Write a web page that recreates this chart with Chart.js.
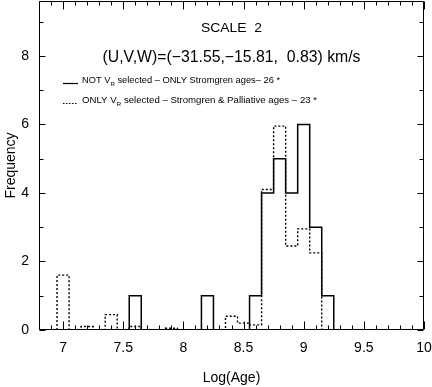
<!DOCTYPE html>
<html><head><meta charset="utf-8">
<script src="https://cdn.jsdelivr.net/npm/chart.js@4/dist/chart.umd.min.js"></script>
<style>html,body{margin:0;padding:0;background:#fff}#wrap{width:432px;height:387px;position:relative}</style>
</head><body><div id="wrap"><canvas id="c" width="432" height="387"></canvas></div>
<script>
// ---- data ----
const binCenters   = [7.0,7.1,7.2,7.3,7.4,7.5,7.6,7.7,7.8,7.9,8.0,8.1,8.2,8.3,8.4,8.5,8.6,8.7,8.8,8.9,9.0,9.1,9.2];
const notVrCounts  = [0,  0,  0,  0,  0,  0,  1,  0,  0,  0,  0,  0,  1,  0,  0,  0,  1,  4,  5,  4,  6,  3,  1];
const onlyVrCounts = [1.6,0,  0.1,0,  0.45,0, 0.1,0,  0,  0.05,0, 0,  0,  0,  0.4,0.2,0.15,4.1,5.95,2.45,2.95,2.25,0];
const binWidth = 0.1;
const xTickLabels = [7, 7.5, 8, 8.5, 9, 9.5, 10];
const yTickLabels = [0, 2, 4, 6, 8];
const titleLine1 = 'SCALE  2';
const titleLine2 = '(U,V,W)=(\u221231.55,\u221215.81,  0.83) km/s';
const legend1 = ['NOT V', 'R', ' selected \u2013 ONLY Stromgren ages\u2013 26 *'];
const legend2 = ['ONLY V', 'R', ' selected \u2013 Stromgren & Palliative ages \u2013 23 *'];
const xTitle = 'Log(Age)';
const yTitle = 'Frequency';

function stepPoints(counts){
  const pts = [{x: binCenters[0] - binWidth/2, y: 0}];
  counts.forEach((v,i) => pts.push({x: binCenters[i] - binWidth/2, y: v}));
  pts.push({x: binCenters[binCenters.length-1] + binWidth/2, y: 0});
  return pts;
}

const FONT = "'Liberation Sans', 'DejaVu Sans', sans-serif";

// draw text horizontally scaled to a target width
function fitText(ctx, text, cx, cy, size, width){
  ctx.font = size + "px " + FONT;
  const w = ctx.measureText(text).width;
  ctx.save();
  ctx.translate(cx, cy);
  ctx.scale(width / w, 1);
  ctx.textAlign = 'center'; ctx.textBaseline = 'middle';
  ctx.fillText(text, 0, 0);
  ctx.restore();
}

const framePlugin = {
  id: 'frame',
  afterDraw(chart){
    const {ctx, chartArea:{left,right,top,bottom}, scales:{x,y}} = chart;
    ctx.save();
    ctx.strokeStyle = '#000'; ctx.lineWidth = 1;
    const L = Math.round(left)+0.5, R = Math.round(right)-0.5, T = Math.round(top)+0.5, B = Math.round(bottom)-0.5;
    ctx.beginPath();
    ctx.moveTo(L,T); ctx.lineTo(R,T); ctx.lineTo(R,B); ctx.lineTo(L,B); ctx.closePath();
    for (let k = Math.ceil(x.min*10); k <= Math.floor(x.max*10); k++){
      const px = Math.round(x.getPixelForValue(k/10)) + 0.5;
      const len = (k % 5 === 0) ? 8 : 4;
      ctx.moveTo(px, B); ctx.lineTo(px, B - len);
      ctx.moveTo(px, T); ctx.lineTo(px, T + len);
    }
    for (let k = 0; k <= Math.floor(y.max); k++){
      const py = Math.round(y.getPixelForValue(k)) + 0.5;
      const len = (k % 2 === 0) ? 6 : 4;
      ctx.moveTo(L, py); ctx.lineTo(L + len, py);
      ctx.moveTo(R, py); ctx.lineTo(R - len, py);
    }
    ctx.stroke();

    const cx = (left + right) / 2;
    ctx.fillStyle = '#000';
    fitText(ctx, titleLine1, cx, top + 27, 13, 61);
    fitText(ctx, titleLine2, cx, top + 57, 16, 258);

    const lx = left + 24, tx = left + 43;
    const drawEntry = (parts, yy, dash, width) => {
      ctx.save();
      ctx.lineWidth = 1.2;
      ctx.setLineDash(dash);
      ctx.beginPath(); ctx.moveTo(lx, yy + 2.5); ctx.lineTo(lx + 15, yy + 2.5); ctx.stroke();
      ctx.restore();
      // measure natural width, then scale horizontally to reference width
      const big = "9px " + FONT, small = "6px " + FONT;
      ctx.font = big; const w0 = ctx.measureText(parts[0]).width, w2 = ctx.measureText(parts[2]).width;
      ctx.font = small; const w1 = ctx.measureText(parts[1]).width;
      const sx = width / (w0 + w1 + w2);
      ctx.save();
      ctx.translate(tx, yy); ctx.scale(sx, 1);
      ctx.textAlign = 'left'; ctx.textBaseline = 'middle';
      ctx.font = big; ctx.fillText(parts[0], 0, 0);
      ctx.font = small; ctx.fillText(parts[1], w0, 3);
      ctx.font = big; ctx.fillText(parts[2], w0 + w1, 0);
      ctx.restore();
    };
    drawEntry(legend1, top + 80, [], 198);
    drawEntry(legend2, top + 100, [1.5, 1.5], 235);
    ctx.restore();
  }
};

const noPad = s => { s.paddingLeft = 0; s.paddingRight = 0; s.paddingTop = 0; s.paddingBottom = 0; };

new Chart(document.getElementById('c'), {
  type: 'line',
  data: {
    datasets: [
      { label: 'ONLY VR', data: stepPoints(onlyVrCounts), stepped: true, borderColor: '#000',
        borderWidth: 1.4, borderDash: [2, 2], pointRadius: 0, fill: false, tension: 0 },
      { label: 'NOT VR', data: stepPoints(notVrCounts), stepped: true, borderColor: '#000',
        borderWidth: 1.5, pointRadius: 0, fill: false, tension: 0 }
    ]
  },
  options: {
    responsive: false, animation: false,
    layout: { padding: { top: 1, right: 8, left: 0, bottom: 0 } },
    plugins: { legend: { display: false }, tooltip: { enabled: false } },
    scales: {
      x: {
        type: 'linear', min: 6.8, max: 10,
        grid: { display: false, drawTicks: false }, border: { display: false },
        afterBuildTicks: s => { s.ticks = xTickLabels.map(v => ({ value: v })); },
        afterFit: s => { s.height = 57; noPad(s); },
        ticks: { color: '#000', font: { size: 14, family: FONT }, padding: 10, maxRotation: 0,
                 callback: v => String(v) },
        title: { display: true, text: xTitle, color: '#000', font: { size: 14, family: FONT }, padding: 0 }
      },
      y: {
        min: 0, max: 9.6,
        grid: { display: false, drawTicks: false }, border: { display: false },
        afterBuildTicks: s => { s.ticks = yTickLabels.map(v => ({ value: v })); },
        afterFit: s => { s.width = 39; noPad(s); },
        ticks: { color: '#000', font: { size: 14, family: FONT }, padding: 10, callback: v => String(v) },
        title: { display: true, text: yTitle, color: '#000', font: { size: 14, family: FONT }, padding: 3 }
      }
    }
  },
  plugins: [framePlugin]
});
</script>
</body></html>
